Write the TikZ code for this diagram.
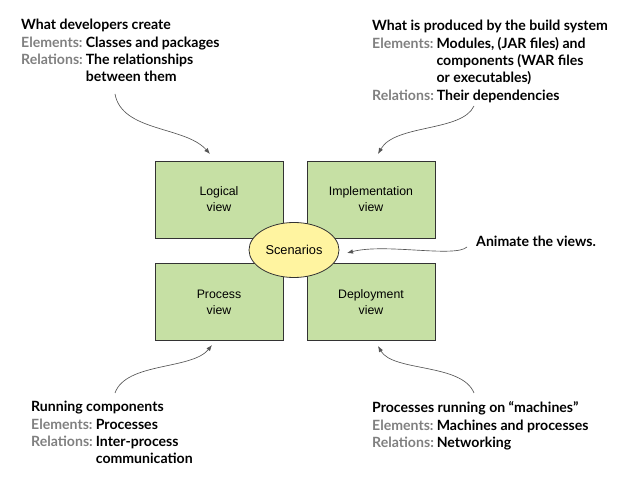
\documentclass[tikz,border=0pt]{standalone}
\usepackage{fontspec}
\setmainfont{Lato}
\setsansfont{Liberation Sans}
\usetikzlibrary{arrows.meta,shapes.geometric}
\definecolor{boxgreen}{RGB}{198,224,164}
\definecolor{elyellow}{RGB}{255,244,160}
\definecolor{labgray}{RGB}{128,128,128}
\definecolor{arrgray}{RGB}{85,85,85}
\tikzset{
  viewbox/.style={draw=black!80,line width=0.8pt,fill=boxgreen,minimum width=128pt,minimum height=77pt,inner sep=0pt,
    font=\sffamily\fontsize{12.3}{16}\selectfont,align=center},
  scen/.style={ellipse,draw=black!80,line width=0.8pt,fill=elyellow,minimum width=90pt,minimum height=55pt,inner sep=0pt,
    font=\sffamily\fontsize{12.8}{14}\selectfont},
  note/.style={anchor=base west,inner sep=0pt,font=\bfseries\fontsize{14.1}{17.3}\selectfont},
  curvy/.style={draw=arrgray,line width=0.65pt,-{Latex[length=6pt,width=4.5pt]}}
}
\newcommand{\lab}[1]{\textcolor{labgray}{#1}}
\begin{document}
\begin{tikzpicture}[x=1pt,y=-1pt]
\useasboundingbox (0,0) rectangle (625,478);
\node[viewbox] (logical) at (219,199.5) {Logical\\view};
\node[viewbox] (impl) at (371,199.5) {Implementation\\view};
\node[viewbox] (process) at (219,302) {Process\\view};
\node[viewbox] (deploy) at (371,302) {Deployment\\view};
\node[scen] (scen) at (294,250) {Scenarios};

\node[note] (tl) at (21,30) {\begin{tabular}[t]{@{}l@{\hspace{3pt}}l@{}}
\multicolumn{2}{@{}l@{}}{What developers create}\\
\lab{Elements:} & Classes and packages\\
\lab{Relations:} & The relationships\\
 & between them
\end{tabular}};

\node[note] (tr) at (372,31) {\begin{tabular}[t]{@{}l@{\hspace{3pt}}l@{}}
\multicolumn{2}{@{}l@{}}{What is produced by the build system}\\
\lab{Elements:} & Modules, (JAR files) and\\
 & components (WAR files\\
 & or executables)\\
\multicolumn{2}{@{}l@{}}{\lab{Relations:}\hspace{3pt}Their dependencies}
\end{tabular}};

\node[note] (bl) at (31,412) {\begin{tabular}[t]{@{}l@{\hspace{3pt}}l@{}}
\multicolumn{2}{@{}l@{}}{Running components}\\
\lab{Elements:} & Processes\\
\lab{Relations:} & Inter-process\\
 & communication
\end{tabular}};

\node[note] (br) at (372,413) {\begin{tabular}[t]{@{}l@{\hspace{3pt}}l@{}}
\multicolumn{2}{@{}l@{}}{Processes running on “machines”}\\
\lab{Elements:} & Machines and processes\\
\lab{Relations:} & Networking
\end{tabular}};

\node[note] (anim) at (476,247) {Animate the views.};

\coordinate (tls) at (115,94);
\coordinate (tle) at (210,154);
\coordinate (trs) at (474,106);
\coordinate (tre) at (378,154);
\coordinate (bls) at (115,393);
\coordinate (ble) at (212,345);
\coordinate (brs) at (474,393);
\coordinate (bre) at (378,346);
\coordinate (ans) at (467,247);
\coordinate (ane) at (347,253);

\draw[curvy] (tls) .. controls (122,132) and (185,126) .. (tle);
\draw[curvy] (trs) .. controls (462,132) and (395,124) .. (tre);
\draw[curvy] (bls) .. controls (126,362) and (192,370) .. (ble);
\draw[curvy] (brs) .. controls (462,363) and (393,372) .. (bre);
\draw[curvy] (ans) .. controls (455,258) and (385,243) .. (ane);
\end{tikzpicture}
\end{document}
